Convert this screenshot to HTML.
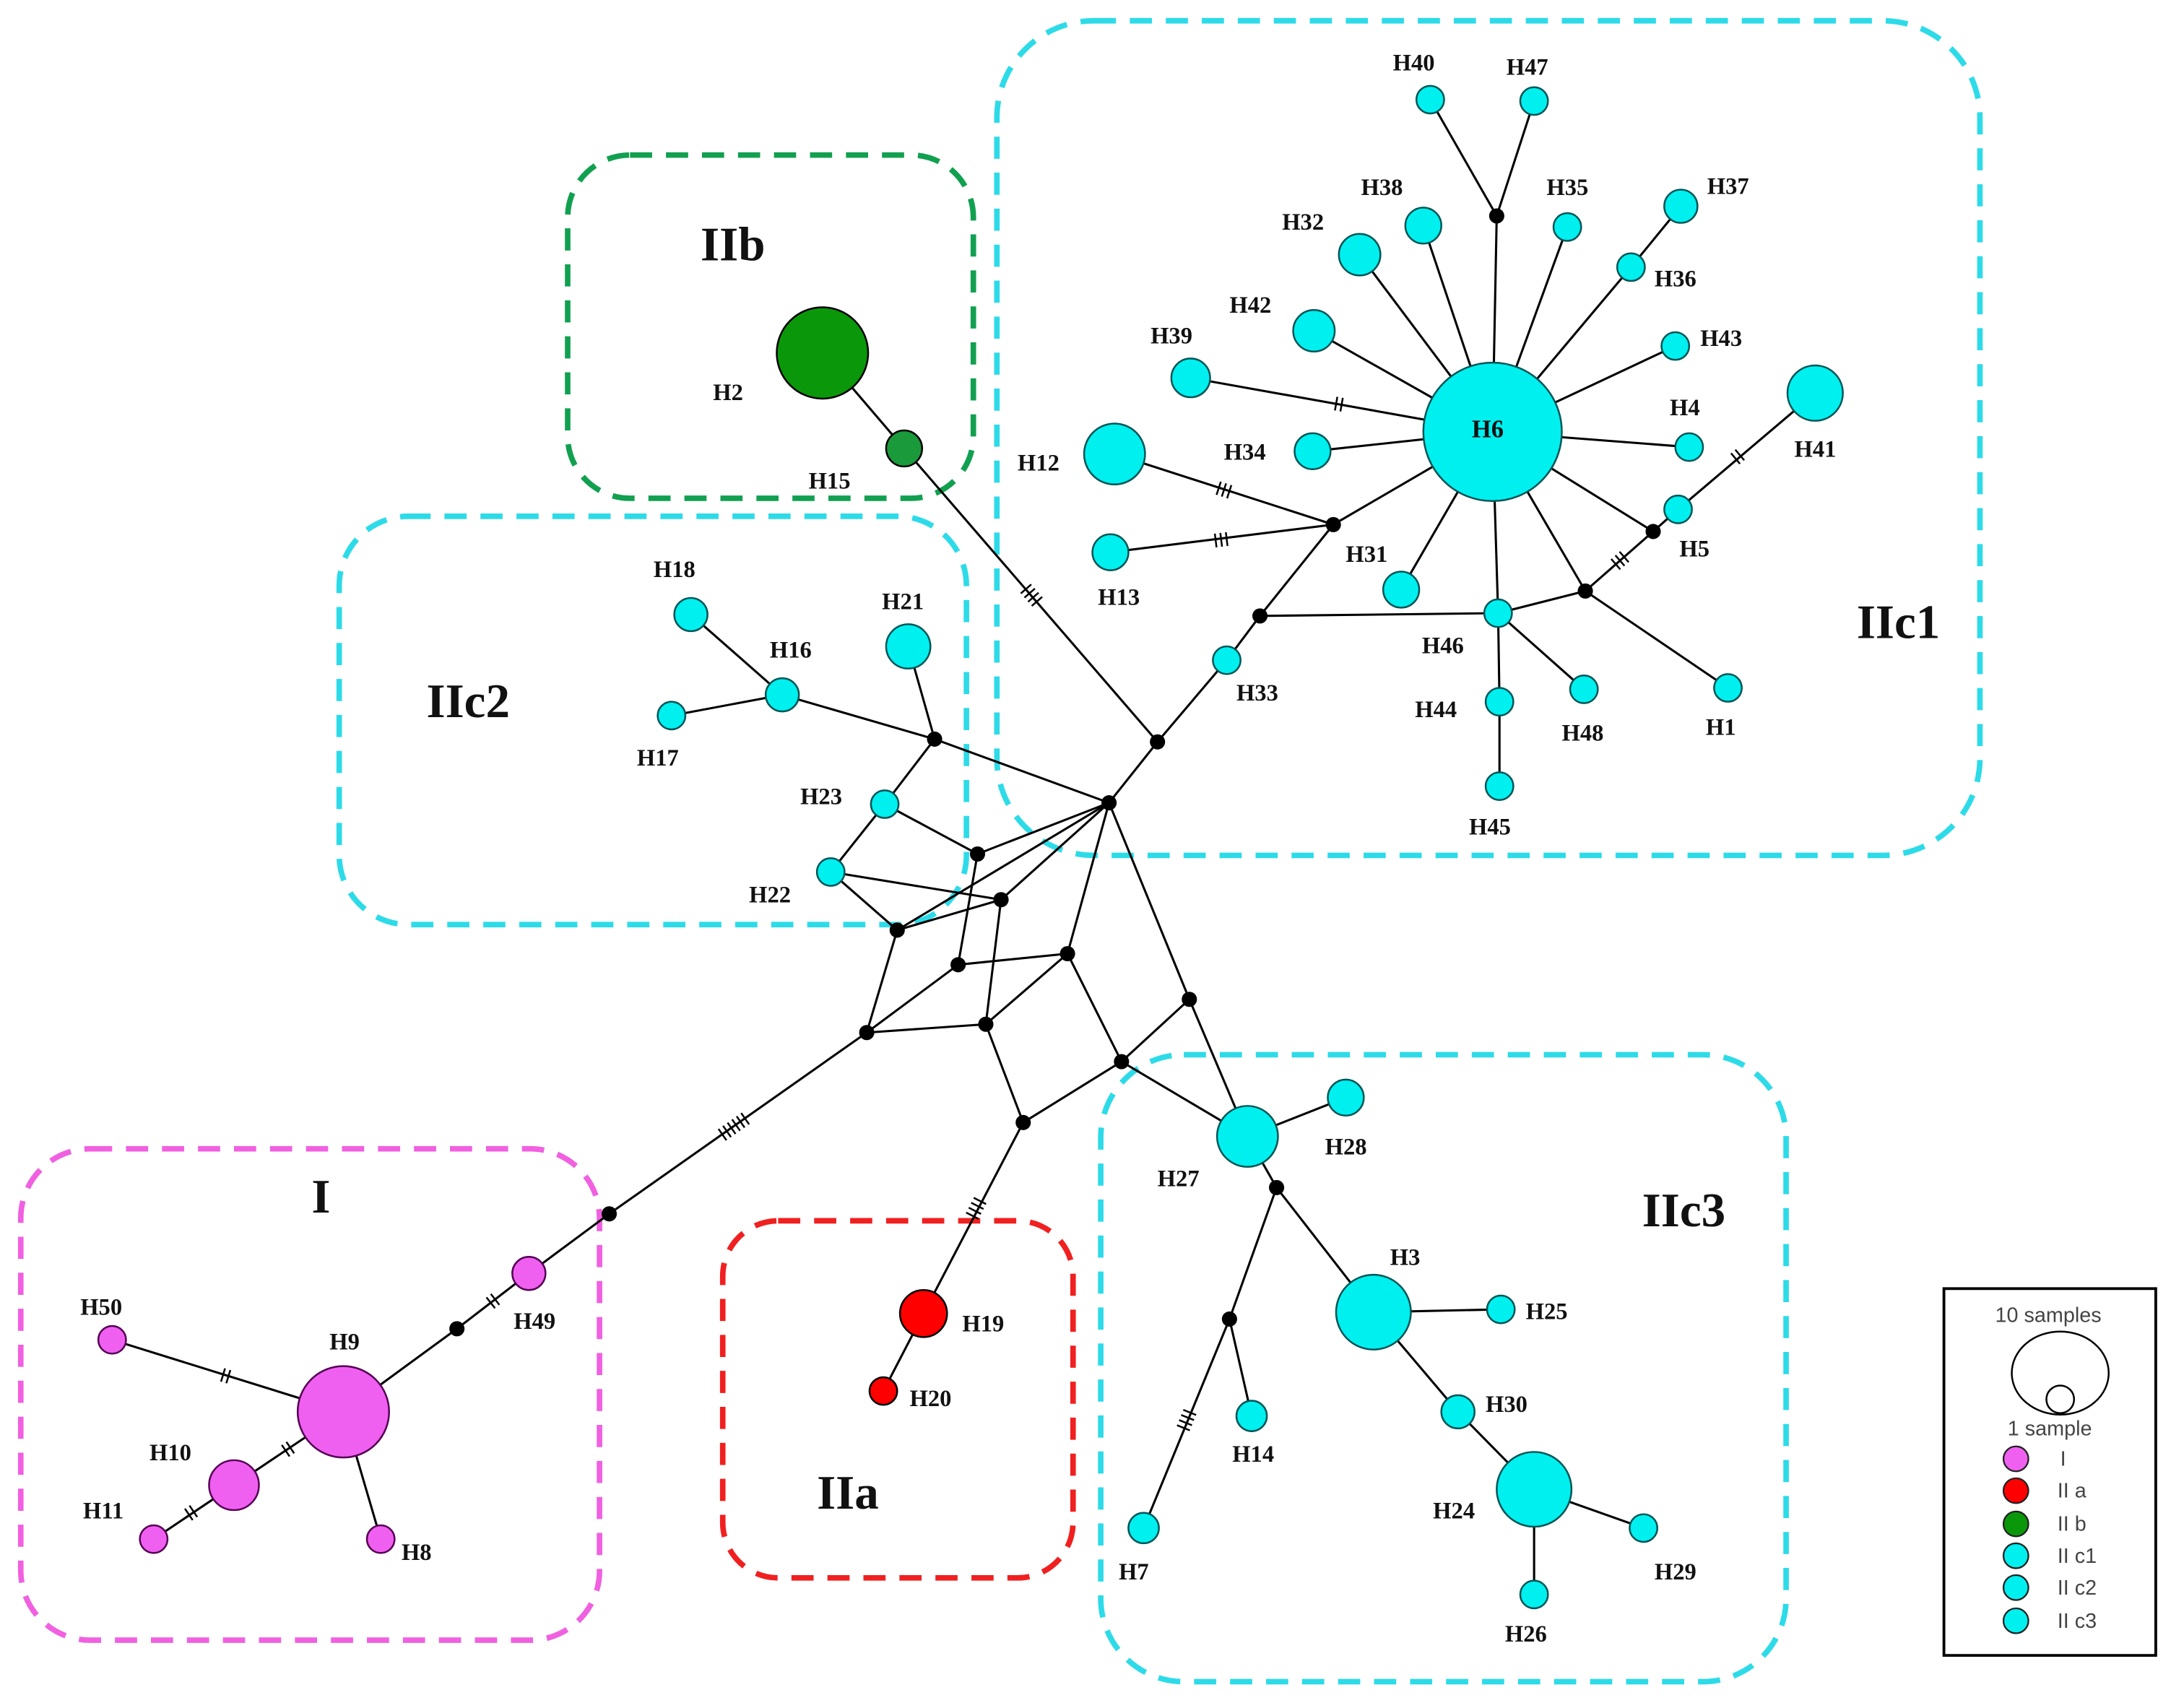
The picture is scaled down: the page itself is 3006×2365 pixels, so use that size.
<!DOCTYPE html>
<html><head><meta charset="utf-8"><style>html,body{margin:0;padding:0;background:#fff}svg{display:block}</style></head>
<body>
<svg width="3006" height="2365" viewBox="0 0 1568 1234" preserveAspectRatio="none" xmlns="http://www.w3.org/2000/svg">
<rect width="1568" height="1234" fill="#fff"/>
<g fill="none" stroke-width="4" stroke-dasharray="16,10">
<rect x="410" y="112" width="293" height="248" rx="45" stroke="#11a050"/>
<rect x="720" y="15" width="710" height="603" rx="70" stroke="#2ddbe8"/>
<rect x="245" y="373" width="453" height="295" rx="50" stroke="#2ddbe8"/>
<rect x="15" y="830" width="418" height="355" rx="50" stroke="#f060e0"/>
<rect x="522" y="882" width="253" height="258" rx="40" stroke="#f02020"/>
<rect x="795" y="762" width="495" height="453" rx="60" stroke="#2ddbe8"/>
</g>
<g stroke="#000" stroke-width="1.6">
<line x1="594" y1="255" x2="653" y2="324"/><line x1="653" y1="324" x2="836" y2="536"/>
<line x1="836" y1="536" x2="801" y2="580"/><line x1="836" y1="536" x2="886" y2="477"/>
<line x1="886" y1="477" x2="910" y2="445"/><line x1="910" y1="445" x2="963" y2="379"/>
<line x1="910" y1="445" x2="1082" y2="443"/><line x1="1082" y1="443" x2="1145" y2="427"/>
<line x1="1145" y1="427" x2="1194" y2="384"/><line x1="1194" y1="384" x2="1212" y2="368"/>
<line x1="1212" y1="368" x2="1311" y2="284"/><line x1="1145" y1="427" x2="1248" y2="497"/>
<line x1="1145" y1="427" x2="1078" y2="312"/><line x1="1194" y1="384" x2="1078" y2="312"/>
<line x1="963" y1="379" x2="1078" y2="312"/><line x1="963" y1="379" x2="805" y2="328"/>
<line x1="963" y1="379" x2="802" y2="399"/>
<line x1="1078" y1="312" x2="860" y2="273"/><line x1="1078" y1="312" x2="949" y2="239"/>
<line x1="1078" y1="312" x2="982" y2="184"/><line x1="1078" y1="312" x2="1028" y2="163"/>
<line x1="1078" y1="312" x2="948" y2="326"/><line x1="1078" y1="312" x2="1012" y2="426"/>
<line x1="1078" y1="312" x2="1082" y2="443"/><line x1="1078" y1="312" x2="1132" y2="164"/>
<line x1="1078" y1="312" x2="1178" y2="193"/><line x1="1078" y1="312" x2="1210" y2="250"/>
<line x1="1078" y1="312" x2="1220" y2="323"/><line x1="1078" y1="312" x2="1081" y2="156"/>
<line x1="1081" y1="156" x2="1033" y2="72"/><line x1="1081" y1="156" x2="1108" y2="73"/>
<line x1="1178" y1="193" x2="1214" y2="149"/>
<line x1="1082" y1="443" x2="1144" y2="498"/><line x1="1082" y1="443" x2="1083" y2="507"/>
<line x1="1083" y1="507" x2="1083" y2="568"/>
<line x1="801" y1="580" x2="675" y2="534"/><line x1="675" y1="534" x2="565" y2="502"/>
<line x1="565" y1="502" x2="499" y2="444"/><line x1="565" y1="502" x2="485" y2="517"/>
<line x1="675" y1="534" x2="656" y2="467"/><line x1="675" y1="534" x2="639" y2="581"/>
<line x1="639" y1="581" x2="706" y2="617"/><line x1="639" y1="581" x2="600" y2="630"/>
<line x1="600" y1="630" x2="723" y2="650"/><line x1="600" y1="630" x2="648" y2="672"/>
<line x1="706" y1="617" x2="801" y2="580"/><line x1="801" y1="580" x2="723" y2="650"/>
<line x1="801" y1="580" x2="648" y2="672"/><line x1="648" y1="672" x2="723" y2="650"/>
<line x1="706" y1="617" x2="692" y2="697"/><line x1="723" y1="650" x2="712" y2="740"/>
<line x1="692" y1="697" x2="771" y2="689"/><line x1="692" y1="697" x2="626" y2="746"/>
<line x1="648" y1="672" x2="626" y2="746"/><line x1="626" y1="746" x2="712" y2="740"/>
<line x1="771" y1="689" x2="801" y2="580"/><line x1="771" y1="689" x2="712" y2="740"/>
<line x1="771" y1="689" x2="810" y2="767"/><line x1="801" y1="580" x2="859" y2="722"/>
<line x1="859" y1="722" x2="810" y2="767"/><line x1="859" y1="722" x2="901" y2="821"/>
<line x1="810" y1="767" x2="739" y2="811"/><line x1="810" y1="767" x2="901" y2="821"/>
<line x1="712" y1="740" x2="739" y2="811"/><line x1="739" y1="811" x2="667" y2="949"/>
<line x1="667" y1="949" x2="638" y2="1005"/>
<line x1="626" y1="746" x2="440" y2="877"/><line x1="440" y1="877" x2="382" y2="920"/>
<line x1="382" y1="920" x2="330" y2="960"/><line x1="330" y1="960" x2="248" y2="1020"/>
<line x1="248" y1="1020" x2="81" y2="968"/><line x1="248" y1="1020" x2="169" y2="1073"/>
<line x1="169" y1="1073" x2="111" y2="1112"/><line x1="248" y1="1020" x2="275" y2="1112"/>
<line x1="901" y1="821" x2="972" y2="793"/><line x1="901" y1="821" x2="922" y2="858"/>
<line x1="922" y1="858" x2="992" y2="948"/><line x1="922" y1="858" x2="888" y2="953"/>
<line x1="888" y1="953" x2="904" y2="1023"/><line x1="888" y1="953" x2="826" y2="1104"/>
<line x1="992" y1="948" x2="1084" y2="946"/><line x1="992" y1="948" x2="1053" y2="1020"/>
<line x1="1053" y1="1020" x2="1108" y2="1076"/><line x1="1108" y1="1076" x2="1187" y2="1104"/>
<line x1="1108" y1="1076" x2="1108" y2="1152"/>
</g>
<g stroke="#000" stroke-width="1.3">
<g transform="translate(745,430) rotate(49)"><line x1="-6" y1="-5" x2="-6" y2="5"/><line x1="-2" y1="-5" x2="-2" y2="5"/><line x1="2" y1="-5" x2="2" y2="5"/><line x1="6" y1="-5" x2="6" y2="5"/></g>
<g transform="translate(530,814) rotate(145)"><line x1="-10" y1="-5" x2="-10" y2="5"/><line x1="-6" y1="-5" x2="-6" y2="5"/><line x1="-2" y1="-5" x2="-2" y2="5"/><line x1="2" y1="-5" x2="2" y2="5"/><line x1="6" y1="-5" x2="6" y2="5"/><line x1="10" y1="-5" x2="10" y2="5"/></g>
<g transform="translate(705,873) rotate(117)"><line x1="-6" y1="-5" x2="-6" y2="5"/><line x1="-2" y1="-5" x2="-2" y2="5"/><line x1="2" y1="-5" x2="2" y2="5"/><line x1="6" y1="-5" x2="6" y2="5"/></g>
<g transform="translate(857,1026) rotate(112)"><line x1="-6" y1="-5" x2="-6" y2="5"/><line x1="-2" y1="-5" x2="-2" y2="5"/><line x1="2" y1="-5" x2="2" y2="5"/><line x1="6" y1="-5" x2="6" y2="5"/></g>
<g transform="translate(884,354) rotate(18)"><line x1="-4" y1="-5" x2="-4" y2="5"/><line x1="0" y1="-5" x2="0" y2="5"/><line x1="4" y1="-5" x2="4" y2="5"/></g>
<g transform="translate(882,390) rotate(-7)"><line x1="-4" y1="-5" x2="-4" y2="5"/><line x1="0" y1="-5" x2="0" y2="5"/><line x1="4" y1="-5" x2="4" y2="5"/></g>
<g transform="translate(967,292) rotate(10)"><line x1="-2" y1="-5" x2="-2" y2="5"/><line x1="2" y1="-5" x2="2" y2="5"/></g>
<g transform="translate(163,994) rotate(17)"><line x1="-2" y1="-5" x2="-2" y2="5"/><line x1="2" y1="-5" x2="2" y2="5"/></g>
<g transform="translate(356,940) rotate(142)"><line x1="-2" y1="-5" x2="-2" y2="5"/><line x1="2" y1="-5" x2="2" y2="5"/></g>
<g transform="translate(208,1047) rotate(146)"><line x1="-2" y1="-5" x2="-2" y2="5"/><line x1="2" y1="-5" x2="2" y2="5"/></g>
<g transform="translate(138,1093) rotate(146)"><line x1="-2" y1="-5" x2="-2" y2="5"/><line x1="2" y1="-5" x2="2" y2="5"/></g>
<g transform="translate(1170,405) rotate(139)"><line x1="-4" y1="-5" x2="-4" y2="5"/><line x1="0" y1="-5" x2="0" y2="5"/><line x1="4" y1="-5" x2="4" y2="5"/></g>
<g transform="translate(1255,330) rotate(-40)"><line x1="-2" y1="-5" x2="-2" y2="5"/><line x1="2" y1="-5" x2="2" y2="5"/></g>
</g>
<g fill="#000">
<circle cx="836" cy="536" r="5.5"/><circle cx="801" cy="580" r="5.5"/><circle cx="910" cy="445" r="5.5"/>
<circle cx="963" cy="379" r="5.5"/><circle cx="1145" cy="427" r="5.5"/><circle cx="1194" cy="384" r="5.5"/>
<circle cx="1081" cy="156" r="5.5"/><circle cx="675" cy="534" r="5.5"/><circle cx="706" cy="617" r="5.5"/>
<circle cx="723" cy="650" r="5.5"/><circle cx="648" cy="672" r="5.5"/><circle cx="692" cy="697" r="5.5"/>
<circle cx="771" cy="689" r="5.5"/><circle cx="712" cy="740" r="5.5"/><circle cx="626" cy="746" r="5.5"/>
<circle cx="859" cy="722" r="5.5"/><circle cx="810" cy="767" r="5.5"/><circle cx="739" cy="811" r="5.5"/>
<circle cx="440" cy="877" r="5.5"/><circle cx="330" cy="960" r="5.5"/><circle cx="922" cy="858" r="5.5"/>
<circle cx="888" cy="953" r="5.5"/>
</g>
<g stroke="#055" stroke-width="1.3" fill="#00f0f0">
<circle cx="1078" cy="312" r="50"/><circle cx="805" cy="328" r="22"/><circle cx="802" cy="399" r="13"/>
<circle cx="860" cy="273" r="14"/><circle cx="949" cy="239" r="15"/><circle cx="982" cy="184" r="15"/>
<circle cx="1028" cy="163" r="13"/><circle cx="1033" cy="72" r="10"/><circle cx="1108" cy="73" r="10"/>
<circle cx="1132" cy="164" r="10"/><circle cx="1214" cy="149" r="12"/><circle cx="1178" cy="193" r="10"/>
<circle cx="1210" cy="250" r="10"/><circle cx="1311" cy="284" r="20"/><circle cx="1220" cy="323" r="10"/>
<circle cx="1212" cy="368" r="10"/><circle cx="948" cy="326" r="13"/><circle cx="1012" cy="426" r="13"/>
<circle cx="1082" cy="443" r="10"/><circle cx="1248" cy="497" r="10"/><circle cx="1144" cy="498" r="10"/>
<circle cx="1083" cy="507" r="10"/><circle cx="1083" cy="568" r="10"/><circle cx="886" cy="477" r="10"/>
<circle cx="499" cy="444" r="12"/><circle cx="565" cy="502" r="12"/><circle cx="485" cy="517" r="10"/>
<circle cx="656" cy="467" r="16"/><circle cx="639" cy="581" r="10"/><circle cx="600" cy="630" r="10"/>
<circle cx="901" cy="821" r="22"/><circle cx="972" cy="793" r="13"/><circle cx="992" cy="948" r="27"/>
<circle cx="1084" cy="946" r="10"/><circle cx="1053" cy="1020" r="12"/><circle cx="1108" cy="1076" r="27"/>
<circle cx="1187" cy="1104" r="10"/><circle cx="1108" cy="1152" r="10"/><circle cx="904" cy="1023" r="11"/>
<circle cx="826" cy="1104" r="11"/>
</g>
<g stroke="#000" stroke-width="1.3">
<circle cx="594" cy="255" r="33" fill="#0a980a"/><circle cx="653" cy="324" r="13" fill="#1a9a3a"/>
<circle cx="667" cy="949" r="17" fill="#f00"/><circle cx="638" cy="1005" r="10" fill="#f00"/>
</g>
<g stroke="#505" stroke-width="1.3" fill="#f060f0">
<circle cx="248" cy="1020" r="33"/><circle cx="382" cy="920" r="12"/><circle cx="81" cy="968" r="10"/>
<circle cx="169" cy="1073" r="18"/><circle cx="111" cy="1112" r="10"/><circle cx="275" cy="1112" r="10"/>
</g>
<g font-family="'Liberation Serif',serif" font-weight="bold" font-size="17" fill="#111">
<text x="1063" y="316" font-size="18">H6</text>
<text x="515" y="289">H2</text><text x="584" y="353">H15</text><text x="735" y="340">H12</text>
<text x="793" y="437">H13</text><text x="831" y="248">H39</text><text x="888" y="226">H42</text>
<text x="926" y="166">H32</text><text x="983" y="141">H38</text><text x="1006" y="51">H40</text>
<text x="1088" y="54">H47</text><text x="1117" y="141">H35</text><text x="1233" y="140">H37</text>
<text x="1195" y="207">H36</text><text x="1228" y="250">H43</text><text x="1296" y="330">H41</text>
<text x="1206" y="300">H4</text><text x="1213" y="402">H5</text><text x="884" y="332">H34</text>
<text x="972" y="406">H31</text><text x="1027" y="472">H46</text><text x="1232" y="531">H1</text>
<text x="1128" y="535">H48</text><text x="1022" y="518">H44</text><text x="1061" y="603">H45</text>
<text x="893" y="506">H33</text><text x="472" y="417">H18</text><text x="556" y="475">H16</text>
<text x="460" y="553">H17</text><text x="637" y="440">H21</text><text x="578" y="581">H23</text>
<text x="541" y="652">H22</text><text x="836" y="857">H27</text><text x="957" y="834">H28</text>
<text x="1004" y="914">H3</text><text x="1102" y="953">H25</text><text x="1073" y="1020">H30</text>
<text x="1035" y="1097">H24</text><text x="1195" y="1141">H29</text><text x="1087" y="1186">H26</text>
<text x="890" y="1056">H14</text><text x="808" y="1141">H7</text><text x="695" y="962">H19</text>
<text x="657" y="1016">H20</text><text x="238" y="975">H9</text><text x="371" y="960">H49</text>
<text x="58" y="950">H50</text><text x="108" y="1055">H10</text><text x="60" y="1097">H11</text>
<text x="290" y="1127">H8</text>
<text x="506" y="188" font-size="35">IIb</text><text x="308" y="518" font-size="35">IIc2</text>
<text x="1341" y="461" font-size="35">IIc1</text><text x="225" y="876" font-size="35">I</text>
<text x="590" y="1090" font-size="35">IIa</text><text x="1186" y="886" font-size="35">IIc3</text>
</g>
<rect x="1404" y="931" width="153" height="265" fill="none" stroke="#000" stroke-width="2"/>
<g font-family="'Liberation Sans',sans-serif" font-size="15" fill="#444">
<text x="1441" y="955">10 samples</text><text x="1450" y="1037">1 sample</text>
<text x="1488" y="1059">I</text><text x="1486" y="1082">II a</text><text x="1486" y="1106">II b</text>
<text x="1486" y="1129">II c1</text><text x="1486" y="1152">II c2</text><text x="1486" y="1176">II c3</text>
</g>
<ellipse cx="1488" cy="992" rx="35" ry="30" fill="none" stroke="#000" stroke-width="1.3"/>
<circle cx="1488" cy="1011" r="10" fill="none" stroke="#000" stroke-width="1.3"/>
<g stroke="#222" stroke-width="1.2">
<circle cx="1456" cy="1054" r="9" fill="#f060f0"/><circle cx="1456" cy="1077" r="9" fill="#f00"/>
<circle cx="1456" cy="1101" r="9" fill="#0a980a"/><circle cx="1456" cy="1124" r="9" fill="#00f0f0"/>
<circle cx="1456" cy="1147" r="9" fill="#00f0f0"/><circle cx="1456" cy="1171" r="9" fill="#00f0f0"/>
</g>
</svg>
</body></html>
